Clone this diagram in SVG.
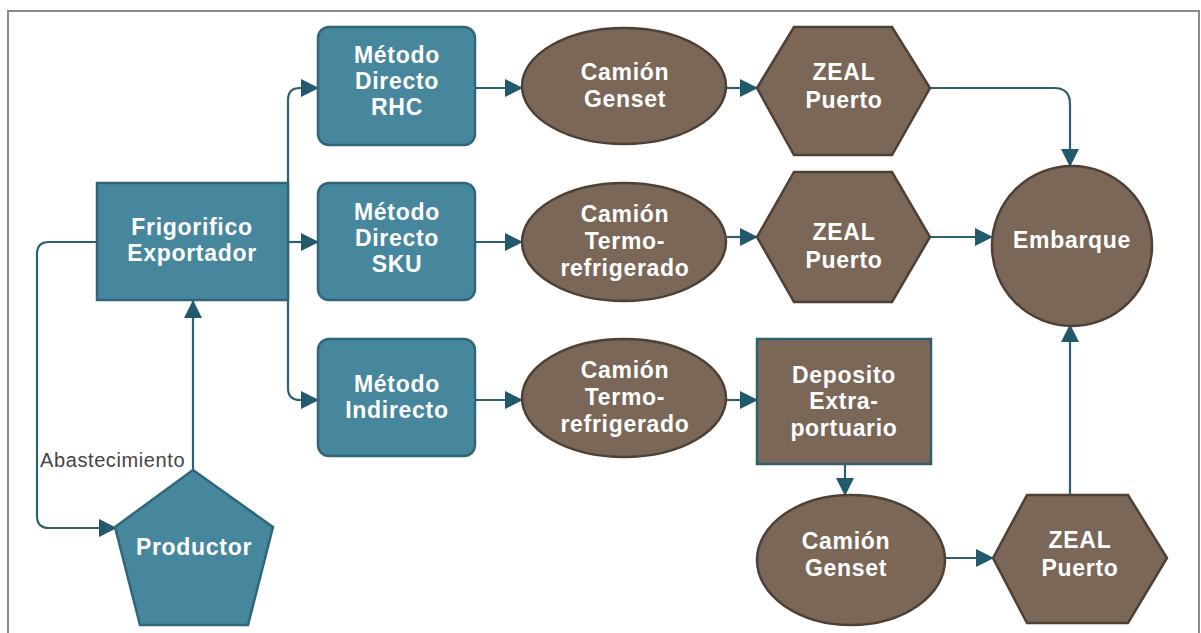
<svg xmlns="http://www.w3.org/2000/svg" width="1201" height="633" viewBox="0 0 1201 633">
<defs>
<marker id="arr" markerWidth="18" markerHeight="18" viewBox="0 0 18 18" refX="17" refY="9" orient="auto" markerUnits="userSpaceOnUse">
<path d="M0,0 L18,9 L0,18 Z" fill="#22596b"/>
</marker>
<style>
.teal{fill:#46879d;stroke:#2f6679;stroke-width:2.5}
.brown{fill:#7b6757;stroke:#4e4035;stroke-width:2.5}
.dep{fill:#7b6757;stroke:#2f5f6f;stroke-width:2.5}
.t{font-family:"Liberation Sans",Arial,sans-serif;font-weight:bold;font-size:23px;fill:#ffffff;text-anchor:middle;letter-spacing:0.7px}
.lbl{font-family:"Liberation Sans",Arial,sans-serif;font-size:20px;fill:#444444;letter-spacing:0.6px}
.c{fill:none;stroke:#2c6072;stroke-width:2.2;marker-end:url(#arr)}
</style>
</defs>
<rect x="0" y="0" width="1201" height="633" fill="#ffffff"/>
<path d="M8,633 L8,11 L1199,11 L1199,633" fill="none" stroke="#8a8a8a" stroke-width="2"/>

<g id="connectors">
<path class="c" d="M288,240 L288,100 Q288,88 300,88 L318,88"/>
<path class="c" d="M288,242 L318,242"/>
<path class="c" d="M288,240 L288,388 Q288,400 300,400 L318,400"/>
<path class="c" d="M97,242 L49,242 Q37,242 37,254 L37,516 Q37,528 49,528 L116,528"/>
<path class="c" d="M193,470 L193,301"/>
<path class="c" d="M475,88 L522,88"/>
<path class="c" d="M475,242 L522,242"/>
<path class="c" d="M475,400 L522,400"/>
<path class="c" d="M727,88 L757,88"/>
<path class="c" d="M727,237 L757,237"/>
<path class="c" d="M727,400 L757,400"/>
<path class="c" d="M930,88 L1054,88 Q1070,88 1070,104 L1070,166"/>
<path class="c" d="M930,237 L992,237"/>
<path class="c" d="M845,464 L845,495"/>
<path class="c" d="M946,558 L993,558"/>
<path class="c" d="M1070,495 L1070,325"/>
</g>

<text class="lbl" x="40" y="467">Abastecimiento</text>

<g id="frigorifico">
<rect class="teal" x="97" y="183" width="191" height="117"/>
<text class="t" x="192" y="235">Frigorifico</text>
<text class="t" x="192" y="261">Exportador</text>
</g>

<g id="productor">
<polygon class="teal" points="193,470 273,527 248,625 140,625 115,527"/>
<text class="t" x="194" y="555">Productor</text>
</g>

<g id="metodo-rhc">
<rect class="teal" x="318" y="27" width="157" height="118" rx="11"/>
<text class="t" x="397" y="63">Método</text>
<text class="t" x="397" y="89">Directo</text>
<text class="t" x="397" y="115">RHC</text>
</g>

<g id="metodo-sku">
<rect class="teal" x="318" y="183" width="157" height="117" rx="11"/>
<text class="t" x="397" y="220">Método</text>
<text class="t" x="397" y="246">Directo</text>
<text class="t" x="397" y="272">SKU</text>
</g>

<g id="metodo-indirecto">
<rect class="teal" x="318" y="339" width="157" height="117" rx="11"/>
<text class="t" x="397" y="392">Método</text>
<text class="t" x="397" y="418">Indirecto</text>
</g>

<g id="camion-genset-1">
<ellipse class="brown" cx="624" cy="86" rx="102" ry="58"/>
<text class="t" x="625" y="80">Camión</text>
<text class="t" x="625" y="107">Genset</text>
</g>

<g id="camion-termo-1">
<ellipse class="brown" cx="624" cy="242" rx="102" ry="59"/>
<text class="t" x="625" y="222">Camión</text>
<text class="t" x="625" y="249">Termo-</text>
<text class="t" x="625" y="276">refrigerado</text>
</g>

<g id="camion-termo-2">
<ellipse class="brown" cx="624" cy="398" rx="102" ry="59"/>
<text class="t" x="625" y="378">Camión</text>
<text class="t" x="625" y="405">Termo-</text>
<text class="t" x="625" y="432">refrigerado</text>
</g>

<g id="zeal-1">
<polygon class="brown" points="757,88 794,27 892,27 930,88 892,155 794,155"/>
<text class="t" x="844" y="80">ZEAL</text>
<text class="t" x="844" y="108">Puerto</text>
</g>

<g id="zeal-2">
<polygon class="brown" points="757,237 794,172 892,172 930,237 892,302 794,302"/>
<text class="t" x="844" y="240">ZEAL</text>
<text class="t" x="844" y="268">Puerto</text>
</g>

<g id="deposito">
<rect class="dep" x="757" y="339" width="174" height="125"/>
<text class="t" x="844" y="383">Deposito</text>
<text class="t" x="844" y="409">Extra-</text>
<text class="t" x="844" y="436">portuario</text>
</g>

<g id="camion-genset-2">
<ellipse class="brown" cx="851" cy="560" rx="94" ry="65"/>
<text class="t" x="846" y="549">Camión</text>
<text class="t" x="846" y="576">Genset</text>
</g>

<g id="zeal-3">
<polygon class="brown" points="993,558 1027,495 1128,495 1167,558 1128,623 1027,623"/>
<text class="t" x="1080" y="548">ZEAL</text>
<text class="t" x="1080" y="576">Puerto</text>
</g>

<g id="embarque">
<circle class="brown" cx="1072" cy="246" r="80"/>
<text class="t" x="1072" y="248">Embarque</text>
</g>
</svg>
